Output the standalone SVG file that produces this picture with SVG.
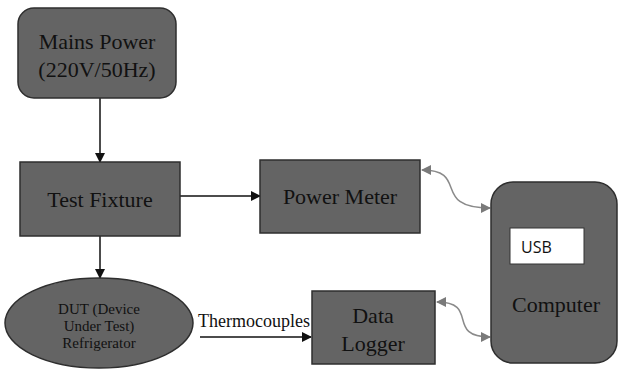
<svg xmlns="http://www.w3.org/2000/svg" width="618" height="371" viewBox="0 0 618 371">
<style>
.box{fill:#646464;stroke:#2e2e2e;stroke-width:1.5}
.t{font-family:'Liberation Serif','DejaVu Serif','Times New Roman',serif;fill:#111;text-anchor:middle}
.c{stroke:#111;stroke-width:1.5;fill:none}
.g{stroke:#8a8a8a;stroke-width:1.5;fill:none}
</style>
<defs>
<marker id="a" markerWidth="10" markerHeight="10" refX="9" refY="5" orient="auto" markerUnits="userSpaceOnUse"><path d="M0,0 L10,5 L0,10 z" fill="#111"/></marker>
<marker id="ge" markerWidth="10" markerHeight="10" refX="9" refY="5" orient="auto" markerUnits="userSpaceOnUse"><path d="M0,0 L10,5 L0,10 z" fill="#7a7a7a"/></marker>
<marker id="gs" markerWidth="10" markerHeight="10" refX="1" refY="5" orient="auto" markerUnits="userSpaceOnUse"><path d="M10,0 L0,5 L10,10 z" fill="#7a7a7a"/></marker>
</defs>
<rect width="618" height="371" fill="#fff"/>
<g id="connectors">
<line class="c" x1="100" y1="98" x2="100" y2="162" marker-end="url(#a)"/>
<line class="c" x1="180" y1="196" x2="260" y2="196" marker-end="url(#a)"/>
<line class="c" x1="100" y1="236" x2="100" y2="278" marker-end="url(#a)"/>
<line class="c" x1="200" y1="337" x2="311" y2="337" marker-end="url(#a)"/>
<path class="g" d="M422,170 C470,170 430,208 490,208" marker-start="url(#gs)" marker-end="url(#ge)"/>
<path class="g" d="M437,302 C480,302 445,337 490,337" marker-start="url(#gs)" marker-end="url(#ge)"/>
</g>
<g id="mains"><rect class="box" x="18" y="8" width="158" height="90" rx="16"/>
<text class="t" x="97" y="49" font-size="22" font-family="'Liberation Serif',serif">Mains Power</text>
<text class="t" x="97" y="77" font-size="22" font-family="'Liberation Serif',serif">(220V/50Hz)</text></g>
<g id="fixture"><rect class="box" x="20" y="162" width="160" height="74"/>
<text class="t" x="100" y="207" font-size="22" font-family="'Liberation Serif',serif">Test Fixture</text></g>
<g id="meter"><rect class="box" x="260" y="160" width="160" height="73"/>
<text class="t" x="340" y="204" font-size="22" font-family="'Liberation Serif',serif">Power Meter</text></g>
<g id="dut"><ellipse class="box" cx="99" cy="323" rx="94" ry="45"/>
<text class="t" x="99" y="314" font-size="15" font-family="'Liberation Serif',serif">DUT (Device</text>
<text class="t" x="99" y="331" font-size="15" font-family="'Liberation Serif',serif">Under Test)</text>
<text class="t" x="99" y="348" font-size="15" font-family="'Liberation Serif',serif">Refrigerator</text></g>
<text class="t" x="254" y="327" font-size="18" font-family="'Liberation Serif',serif">Thermocouples</text>
<g id="logger"><rect class="box" x="312" y="291" width="123" height="73"/>
<text class="t" x="373" y="323" font-size="22" font-family="'Liberation Serif',serif">Data</text>
<text class="t" x="373" y="351" font-size="22" font-family="'Liberation Serif',serif">Logger</text></g>
<g id="computer"><rect class="box" x="491" y="182" width="126" height="181" rx="22"/>
<rect x="510" y="228" width="74" height="36" fill="#fff" stroke="#333" stroke-width="1"/>
<text x="521" y="253" font-family="'Open Sans',sans-serif" font-size="16" fill="#111">USB</text>
<text class="t" x="556" y="312" font-size="22" font-family="'Liberation Serif',serif">Computer</text></g>
</svg>
